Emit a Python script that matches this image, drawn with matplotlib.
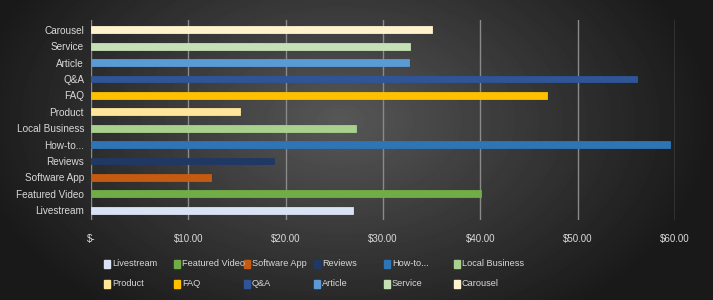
import numpy as np
import matplotlib.pyplot as plt
from matplotlib.patches import Rectangle

# categories bottom -> top, as plotted
categories = ['Livestream', 'Featured Video', 'Software App', 'Reviews', 'How-to...',
              'Local Business', 'Product', 'FAQ', 'Q&A', 'Article', 'Service', 'Carousel']
values = [26.9, 40.1, 12.3, 18.8, 59.5, 27.2, 15.3, 46.9, 56.1, 32.7, 32.8, 35.0]
colors = ['#dae3f3', '#70ad47', '#c55a11', '#203864', '#2e75b6', '#a9d18e',
          '#ffe699', '#ffc000', '#2f5597', '#5b9bd5', '#c5e0b4', '#fff2cc']
xticks = [0, 10, 20, 30, 40, 50, 60]
xtick_labels = ['$-', '$10.00', '$20.00', '$30.00', '$40.00', '$50.00', '$60.00']

plt.rcParams['font.family'] = ['Liberation Sans', 'DejaVu Sans']
text_col = '#d9d9d9'

fig = plt.figure(figsize=(7.13, 3.0), dpi=100)

# radial gradient background
bg = fig.add_axes([0, 0, 1, 1], zorder=-10)
yy, xx = np.mgrid[0:300, 0:713]
r = np.sqrt(((xx - 340) / 400.0) ** 2 + ((yy - 120) / 260.0) ** 2)
shade = np.clip(0.34 - 0.26 * r, 0.1, 0.34)
bg.imshow(shade, cmap='gray', vmin=0, vmax=1, aspect='auto', extent=[0, 1, 0, 1])
bg.axis('off')

ax = fig.add_axes([91 / 713, 1 - 220 / 300, (675 - 91) / 713, (220 - 20) / 300])
ax.patch.set_alpha(0)

y = np.arange(len(categories))
for i, (v, c) in enumerate(zip(values, colors)):
    ax.barh(y[i], v, height=0.42, color=c, edgecolor=c, linewidth=0.6, zorder=3)

ax.set_xlim(0, 60)
ax.set_ylim(-0.6, len(categories) - 0.4)
ax.set_xticks(xticks)
ax.set_xticklabels(xtick_labels, color=text_col, fontsize=7)
ax.set_yticks(y)
ax.set_yticklabels(categories, color=text_col, fontsize=7.2)
ax.tick_params(length=0, pad=10)
ax.tick_params(axis='y', pad=5)
ax.grid(axis='x', color='#8a8a8a', linewidth=1.0, zorder=0)
for s in ax.spines.values():
    s.set_visible(False)

# legend laid out in a fixed 6-column grid
for i, (name, c) in enumerate(zip(categories, colors)):
    col, row = i % 6, i // 6
    x0 = (104 + 70 * col) / 713
    y0 = 1 - (264 + 20 * row) / 300
    fig.add_artist(Rectangle((x0, y0 - 0.013), 6 / 713, 0.026,
                             transform=fig.transFigure, color=c))
    fig.text(x0 + 8 / 713, y0, name, color=text_col, fontsize=6.6, va='center')

fig.savefig('out.png', dpi=100)
